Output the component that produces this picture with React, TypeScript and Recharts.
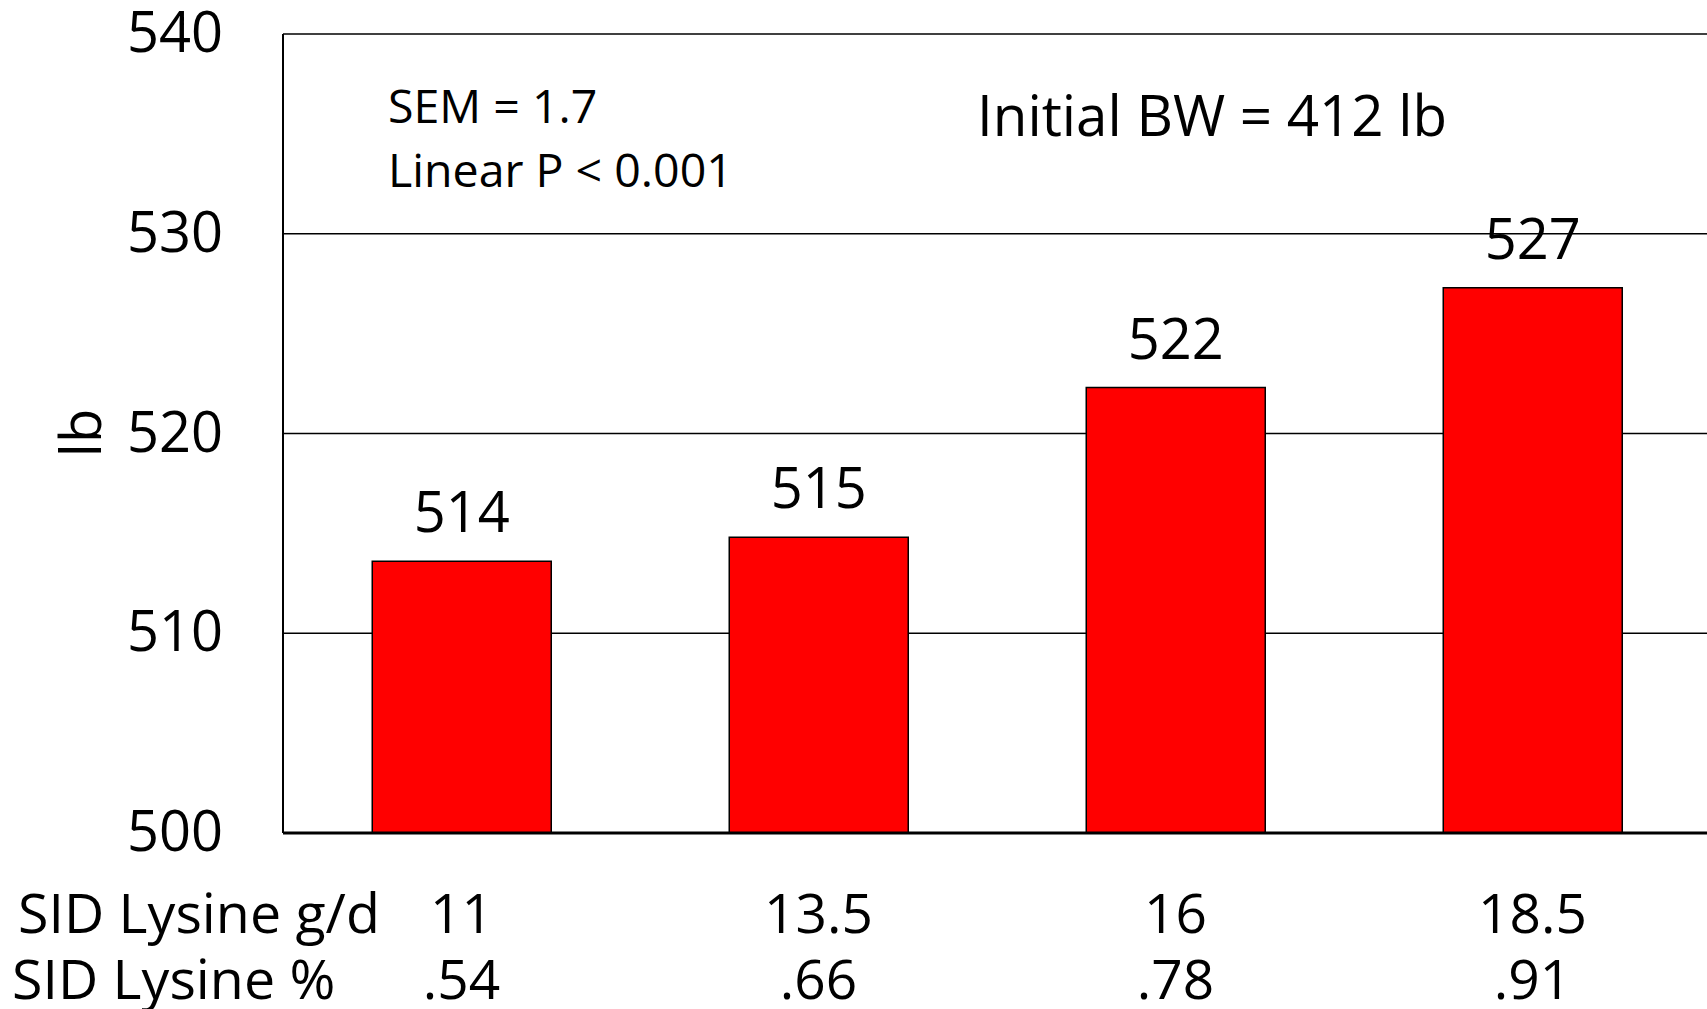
import { BarChart, Bar, XAxis, YAxis, CartesianGrid, LabelList, Customized } from 'recharts'

const lysineGd = ['11', '13.5', '16', '18.5']
const lysinePct = ['.54', '.66', '.78', '.91']
const bodyWeight = [513.6, 514.8, 522.3, 527.3]
const yTicks = [500, 510, 520, 530, 540]

const rowTitles = ['SID Lysine g/d', 'SID Lysine %']
const notes = ['SEM = 1.7', 'Linear P < 0.001']
const initialBw = 'Initial BW = 412 lb'

const FONT = '"Open Sans", sans-serif'

const data = lysineGd.map((gd, i) => ({
  gd,
  pct: lysinePct[i],
  bw: bodyWeight[i],
}))

const XTick = (props: any) => {
  const { x, y, payload, index } = props
  return (
    <g>
      {index === 0 && (
        <>
          <text x={18} y={y + 100} fontSize={55.5} fontFamily={FONT} fill="#000">
            {rowTitles[0]}
          </text>
          <text x={12} y={y + 166} fontSize={55.5} fontFamily={FONT} fill="#000">
            {rowTitles[1]}
          </text>
        </>
      )}
      <text x={x} y={y + 100} textAnchor="middle" fontSize={55} fontFamily={FONT} fill="#000">
        {payload.value}
      </text>
      <text x={x} y={y + 166} textAnchor="middle" fontSize={55} fontFamily={FONT} fill="#000">
        {data[payload.index ?? index]?.pct}
      </text>
    </g>
  )
}

const YTick = (props: any) => {
  const { x, y, payload } = props
  return (
    <text x={x} y={y} dy={-4} textAnchor="end" dominantBaseline="central" fontSize={56} fontFamily={FONT} fill="#000">
      {payload.value}
    </text>
  )
}

const Annotations = () => (
  <g fontFamily={FONT} fill="#000">
    <text x={388} y={123} fontSize={46.5}>{notes[0]}</text>
    <text x={388} y={187} fontSize={46.5}>{notes[1]}</text>
    <text x={977} y={136} fontSize={56.5}>{initialBw}</text>
    <text x={101} y={433} fontSize={56} textAnchor="middle" transform="rotate(-90 101 433)">
      lb
    </text>
  </g>
)

export default function App() {
  return (
    <div
      style={{
        position: 'absolute',
        left: 0,
        top: 0,
        width: 1707,
        height: 1009,
        overflow: 'hidden',
        background: '#fff',
      }}
    >
      <BarChart
        width={1720}
        height={1009}
        data={data}
        margin={{ top: 34, right: 9, left: 0, bottom: 0 }}
        barCategoryGap="25%"
      >
        <CartesianGrid vertical={false} stroke="#000" strokeWidth={1.5} />
        <XAxis
          dataKey="gd"
          height={176}
          tickLine={false}
          tickSize={0}
          tickMargin={0}
          axisLine={{ stroke: '#000', strokeWidth: 3 }}
          tick={<XTick />}
          interval={0}
        />
        <YAxis
          width={283}
          domain={[500, 540]}
          ticks={yTicks}
          tickLine={false}
          tickSize={0}
          tickMargin={60}
          axisLine={{ stroke: '#000', strokeWidth: 2 }}
          tick={<YTick />}
        />
        <Bar dataKey="bw" fill="#ff0000" stroke="#000" strokeWidth={1.5} isAnimationActive={false}>
          <LabelList
            dataKey="bw"
            position="top"
            offset={29}
            formatter={(v: any) => Math.round(Number(v))}
            style={{ fontSize: 56, fontFamily: FONT, fill: '#000' }}
          />
        </Bar>
        <Customized component={Annotations} />
      </BarChart>
    </div>
  )
}
